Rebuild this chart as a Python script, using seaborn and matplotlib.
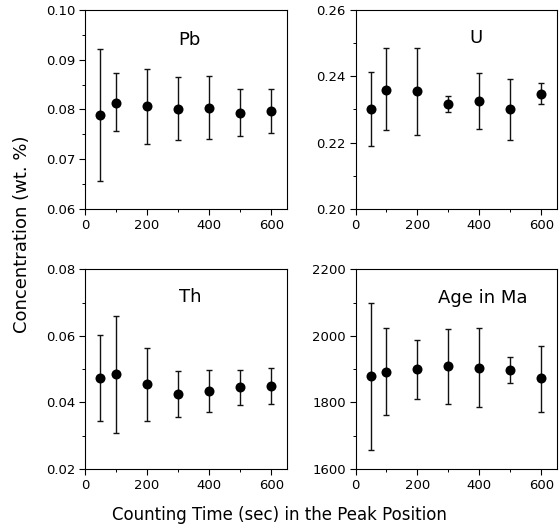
import matplotlib
matplotlib.use("Agg")
import matplotlib.pyplot as plt
from matplotlib.ticker import MultipleLocator, FormatStrFormatter
import seaborn as sns
import pandas as pd

times = [50, 100, 200, 300, 400, 500, 600]

pb_mean = [0.0788, 0.0813, 0.0806, 0.0801, 0.0803, 0.0793, 0.0796]
pb_upper = [0.0921, 0.0874, 0.0882, 0.0865, 0.0868, 0.0841, 0.0841]
pb_lower = [0.0655, 0.0756, 0.0731, 0.0739, 0.0741, 0.0747, 0.0752]

u_mean = [0.2301, 0.2359, 0.2355, 0.2316, 0.2325, 0.2300, 0.2346]
u_upper = [0.2413, 0.2487, 0.2487, 0.2342, 0.2409, 0.2392, 0.2379]
u_lower = [0.2189, 0.2239, 0.2224, 0.2293, 0.2242, 0.2208, 0.2317]

th_mean = [0.0473, 0.0484, 0.0454, 0.0424, 0.0433, 0.0445, 0.0450]
th_upper = [0.0602, 0.0660, 0.0564, 0.0494, 0.0498, 0.0496, 0.0504]
th_lower = [0.0344, 0.0309, 0.0344, 0.0355, 0.0370, 0.0391, 0.0396]

age_mean = [1878, 1892, 1899, 1908, 1904, 1898, 1873]
age_upper = [2100, 2024, 1987, 2021, 2023, 1937, 1969]
age_lower = [1658, 1762, 1809, 1795, 1785, 1858, 1771]

panel_titles = ["Pb", "U", "Th", "Age in Ma"]
ylims = [(0.06, 0.10), (0.20, 0.26), (0.02, 0.08), (1600, 2200)]
ymajor = [0.01, 0.02, 0.02, 200]
yfmt = ["%.2f", "%.2f", "%.2f", "%d"]
xticks = [0, 200, 400, 600]
xlabel = "Counting Time (sec) in the Peak Position"
ylabel = "Concentration (wt. %)"

sns.set_style("ticks")
plt.rcParams['font.family'] = ['DejaVu Sans']
plt.rcParams['text.color'] = 'black'
plt.rcParams['axes.labelcolor'] = 'black'
plt.rcParams['xtick.color'] = 'black'
plt.rcParams['ytick.color'] = 'black'

fig = plt.figure(figsize=(5.59, 5.30), dpi=100)
positions = [
    [0.152, 0.606, 0.361, 0.375],
    [0.636, 0.606, 0.360, 0.375],
    [0.152, 0.115, 0.361, 0.377],
    [0.636, 0.115, 0.360, 0.377],
]
title_pos = [(0.52, 0.85), (0.60, 0.86), (0.52, 0.86), (0.63, 0.855)]

series = [
    (pb_mean, pb_lower, pb_upper),
    (u_mean, u_lower, u_upper),
    (th_mean, th_lower, th_upper),
    (age_mean, age_lower, age_upper),
]

for i, (m, lo, hi) in enumerate(series):
    ax = fig.add_axes(positions[i])
    df = pd.DataFrame({"t": times, "v": m})
    yerr = [[mv - l for mv, l in zip(m, lo)], [h - mv for mv, h in zip(m, hi)]]
    ax.errorbar(times, m, yerr=yerr, fmt="none", ecolor="#111111",
                elinewidth=1.0, capsize=2.5, capthick=1.0, zorder=2)
    sns.scatterplot(data=df, x="t", y="v", ax=ax, color="black", s=52,
                    edgecolor="black", linewidth=0, zorder=3, legend=False)
    ax.set_xlim(0, 650)
    ax.set_ylim(*ylims[i])
    ax.set_xticks(xticks)
    ax.xaxis.set_minor_locator(MultipleLocator(100))
    ax.yaxis.set_major_locator(MultipleLocator(ymajor[i]))
    ax.yaxis.set_minor_locator(MultipleLocator(ymajor[i] / 2))
    ax.yaxis.set_major_formatter(FormatStrFormatter(yfmt[i]))
    ax.set_xlabel("")
    ax.set_ylabel("")
    ax.tick_params(which="major", direction="out", length=4, width=0.8,
                   labelsize=9.5, colors="black", pad=3)
    ax.tick_params(which="minor", direction="out", length=2.5, width=0.7)
    for sp in ax.spines.values():
        sp.set_visible(True)
        sp.set_linewidth(0.8)
        sp.set_color("black")
    ax.text(title_pos[i][0], title_pos[i][1], panel_titles[i],
            transform=ax.transAxes, ha="center", va="center", fontsize=13)

fig.text(0.5, 0.028, xlabel, ha="center", va="center", fontsize=12)
fig.text(0.04, 0.558, ylabel, ha="center", va="center", rotation=90, fontsize=13)

fig.savefig("out.png", dpi=100)
